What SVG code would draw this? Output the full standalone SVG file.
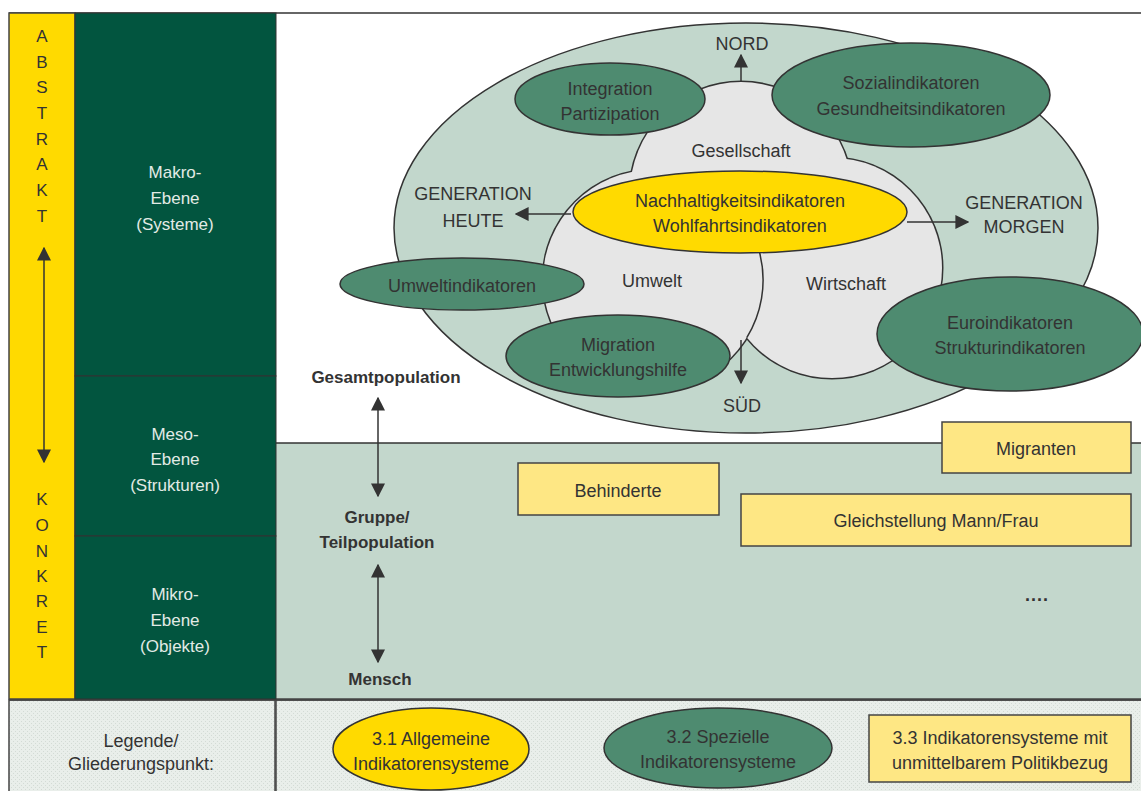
<svg xmlns="http://www.w3.org/2000/svg" width="1141" height="791" viewBox="0 0 1141 791">
<style>
text{font-family:"Liberation Sans",Arial,sans-serif;font-size:18px;fill:#333;text-anchor:middle}
.lt{fill:#e2ebe6;font-size:17px}
.abs{font-size:17px;fill:#333}
.b{font-weight:bold;font-size:17px;fill:#333}
.ln{stroke:#333;stroke-width:1.5}
.gr{fill:#4e8b70;stroke:#333;stroke-width:1.5}
.ye{fill:#ffda00;stroke:#333;stroke-width:1.5}
.bx{fill:#fee784;stroke:#444;stroke-width:1.5}
.ci{fill:#e6e6e6}
.con{stroke:#333;stroke-width:1.5;fill:none}
</style>
<defs>
<marker id="ah" viewBox="0 0 10 10" refX="9" refY="5" markerWidth="14" markerHeight="14" markerUnits="userSpaceOnUse" orient="auto-start-reverse">
<path d="M0,0 L10,5 L0,10 Z" fill="#333"/>
</marker>
<pattern id="dots" width="4" height="4" patternUnits="userSpaceOnUse">
<rect width="4" height="4" fill="#e9eeea"/>
<rect x="1" y="1" width="1" height="1" fill="#d3dbd5"/>
<rect x="3" y="3" width="1" height="1" fill="#d3dbd5"/>
</pattern>
</defs>
<rect width="1141" height="791" fill="#fff"/>

<!-- backgrounds -->
<g id="band">
<rect x="276" y="443" width="866" height="256" fill="#c3d7cc"/>
<line x1="276" y1="443" x2="1141" y2="443" class="ln" stroke-width="2"/>
</g>
<g id="legend-bg">
<rect x="9" y="700" width="266" height="92" fill="url(#dots)" stroke="#444" stroke-width="1.5"/>
<rect x="276" y="700" width="866" height="92" fill="url(#dots)" stroke="#444" stroke-width="1.5"/>
<line x1="9" y1="699.5" x2="1141" y2="699.5" stroke="#444" stroke-width="2.5"/>
</g>
<line x1="9" y1="13" x2="1141" y2="13" class="ln"/>

<!-- left columns -->
<g id="abstrakt-konkret">
<rect x="9" y="13" width="66" height="686" fill="#ffda00" stroke="#444" stroke-width="1.5"/>
<text class="abs" x="42" y="42">A</text>
<text class="abs" x="42" y="68">B</text>
<text class="abs" x="42" y="93">S</text>
<text class="abs" x="42" y="119">T</text>
<text class="abs" x="42" y="145">R</text>
<text class="abs" x="42" y="170">A</text>
<text class="abs" x="42" y="196">K</text>
<text class="abs" x="42" y="222">T</text>
<text class="abs" x="42" y="505">K</text>
<text class="abs" x="42" y="531">O</text>
<text class="abs" x="42" y="557">N</text>
<text class="abs" x="42" y="582">K</text>
<text class="abs" x="42" y="607">R</text>
<text class="abs" x="42" y="633">E</text>
<text class="abs" x="42" y="658">T</text>
</g>
<g id="makro">
<rect x="75" y="13" width="201" height="363" fill="#02553f" stroke="#333" stroke-width="1"/>
<text class="lt" x="175" y="178">Makro-</text>
<text class="lt" x="175" y="204">Ebene</text>
<text class="lt" x="175" y="230">(Systeme)</text>
</g>
<g id="meso">
<rect x="75" y="376" width="201" height="160" fill="#02553f" stroke="#333" stroke-width="1"/>
<text class="lt" x="175" y="440">Meso-</text>
<text class="lt" x="175" y="465">Ebene</text>
<text class="lt" x="175" y="491">(Strukturen)</text>
</g>
<g id="mikro">
<rect x="75" y="536" width="201" height="163" fill="#02553f" stroke="#333" stroke-width="1"/>
<text class="lt" x="175" y="600">Mikro-</text>
<text class="lt" x="175" y="626">Ebene</text>
<text class="lt" x="175" y="652">(Objekte)</text>
</g>

<!-- big ellipse and circles -->
<g id="aussen">
<ellipse cx="746" cy="228" rx="352" ry="205" fill="#c2d7cc" stroke="#333" stroke-width="1.5"/>
</g>
<g id="kreise">
<circle cx="741" cy="193" r="111" fill="none" stroke="#333" stroke-width="3"/>
<circle cx="832" cy="268" r="110" fill="none" stroke="#333" stroke-width="3"/>
<circle cx="653" cy="280" r="110" fill="none" stroke="#333" stroke-width="3"/>
<circle cx="741" cy="193" r="111" class="ci"/>
<circle cx="832" cy="268" r="110" class="ci"/>
<circle cx="653" cy="280" r="110" class="ci"/>
<path d="M708 184.7 A110 110 0 0 1 746.8 337.6" fill="none" stroke="#333" stroke-width="1.5"/>
</g>
<g id="gesellschaft"><text x="741" y="157">Gesellschaft</text></g>
<g id="umwelt"><text x="652" y="287">Umwelt</text></g>
<g id="wirtschaft"><text x="846" y="290">Wirtschaft</text></g>

<g id="nachhaltigkeit">
<ellipse cx="740" cy="212" rx="167" ry="41" class="ye"/>
<text x="740" y="207" fill="#4a4a3a">Nachhaltigkeitsindikatoren</text>
<text x="740" y="232">Wohlfahrtsindikatoren</text>
</g>
<g id="integration">
<ellipse cx="610" cy="99" rx="95" ry="36" class="gr"/>
<text x="610" y="95">Integration</text>
<text x="610" y="120">Partizipation</text>
</g>
<g id="sozial">
<ellipse cx="911" cy="95" rx="139" ry="52" class="gr"/>
<text x="911" y="89">Sozialindikatoren</text>
<text x="911" y="115">Gesundheitsindikatoren</text>
</g>
<g id="umweltindikatoren">
<ellipse cx="462" cy="284" rx="122" ry="26" class="gr"/>
<text x="462" y="292">Umweltindikatoren</text>
</g>
<g id="migration">
<ellipse cx="618" cy="356" rx="112" ry="41" class="gr"/>
<text x="618" y="351">Migration</text>
<text x="618" y="376">Entwicklungshilfe</text>
</g>
<g id="euro">
<ellipse cx="1010" cy="334" rx="133" ry="57" class="gr"/>
<text x="1010" y="329">Euroindikatoren</text>
<text x="1010" y="354">Strukturindikatoren</text>
</g>

<g id="nord"><text x="742" y="50">NORD</text></g>
<g id="sued"><text x="742" y="412">SÜD</text></g>
<g id="heute"><text x="473" y="200">GENERATION</text><text x="473" y="227">HEUTE</text></g>
<g id="morgen"><text x="1024" y="209">GENERATION</text><text x="1024" y="233">MORGEN</text></g>

<g id="gesamtpopulation"><text class="b" x="386" y="383">Gesamtpopulation</text></g>
<g id="gruppe"><text class="b" x="377" y="523">Gruppe/</text><text class="b" x="377" y="548">Teilpopulation</text></g>
<g id="mensch"><text class="b" x="380" y="685">Mensch</text></g>

<g id="behinderte">
<rect x="518" y="463" width="201" height="52" class="bx"/>
<text x="618" y="497">Behinderte</text>
</g>
<g id="migranten">
<rect x="942" y="422" width="189" height="51" class="bx"/>
<text x="1036" y="455">Migranten</text>
</g>
<g id="gleichstellung">
<rect x="741" y="494" width="390" height="52" class="bx"/>
<text x="936" y="527">Gleichstellung Mann/Frau</text>
</g>
<g id="dots-more"><text x="1037" y="601" font-weight="bold" font-size="24" letter-spacing="1">....</text></g>

<g id="legende">
<text x="141" y="747">Legende/</text>
<text x="141" y="770">Gliederungspunkt:</text>
</g>
<g id="leg31">
<ellipse cx="431" cy="749" rx="98" ry="41" class="ye"/>
<text x="431" y="745">3.1 Allgemeine</text>
<text x="431" y="770">Indikatorensysteme</text>
</g>
<g id="leg32">
<ellipse cx="718" cy="748" rx="114" ry="40" class="gr"/>
<text x="718" y="743">3.2 Spezielle</text>
<text x="718" y="768">Indikatorensysteme</text>
</g>
<g id="leg33">
<rect x="869" y="715" width="262" height="67" class="bx"/>
<text x="1000" y="744">3.3 Indikatorensysteme mit</text>
<text x="1000" y="769">unmittelbarem Politikbezug</text>
</g>

<g id="connectors">
<line x1="44" y1="248" x2="44" y2="462" class="con" stroke-width="2" marker-start="url(#ah)" marker-end="url(#ah)"/>
<line x1="741" y1="82" x2="741" y2="55" class="con" marker-end="url(#ah)"/>
<line x1="741" y1="340" x2="741" y2="383" class="con" marker-end="url(#ah)"/>
<line x1="571" y1="214" x2="516" y2="214" class="con" marker-end="url(#ah)"/>
<line x1="907" y1="222" x2="968" y2="222" class="con" marker-end="url(#ah)"/>
<line x1="378" y1="398" x2="378" y2="496" class="con" marker-start="url(#ah)" marker-end="url(#ah)"/>
<line x1="378" y1="565" x2="378" y2="662" class="con" marker-start="url(#ah)" marker-end="url(#ah)"/>
</g>
</svg>
